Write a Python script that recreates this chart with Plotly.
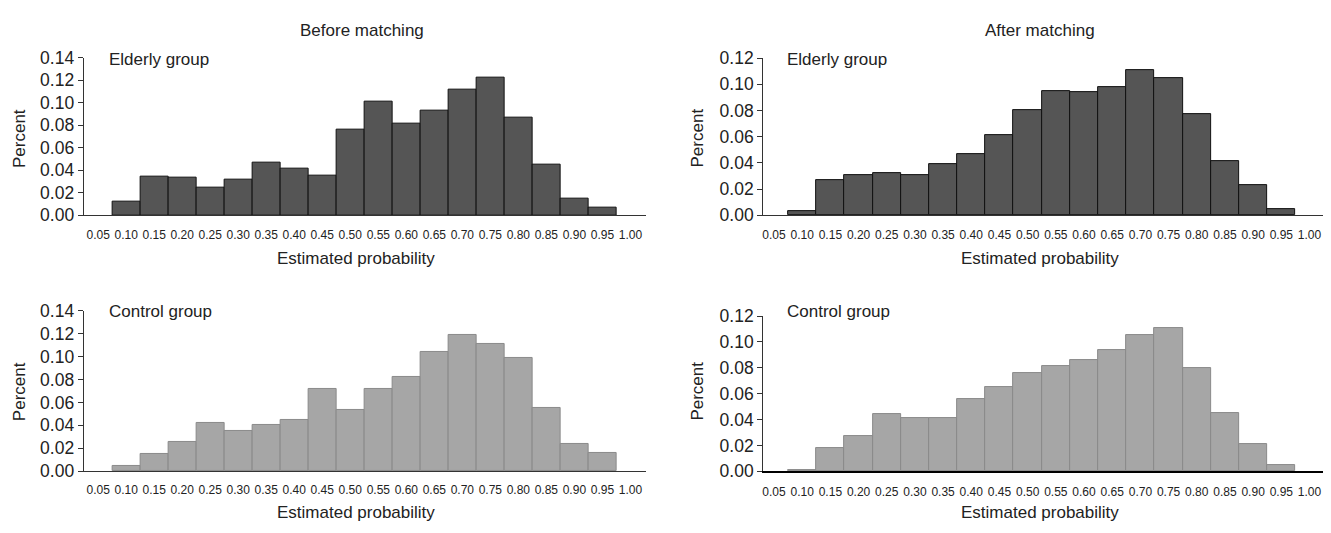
import plotly.graph_objects as go

bins = [0.10, 0.15, 0.20, 0.25, 0.30, 0.35, 0.40, 0.45, 0.50, 0.55,
        0.60, 0.65, 0.70, 0.75, 0.80, 0.85, 0.90, 0.95]
x_tick_vals = [0.05, 0.10, 0.15, 0.20, 0.25, 0.30, 0.35, 0.40, 0.45, 0.50,
               0.55, 0.60, 0.65, 0.70, 0.75, 0.80, 0.85, 0.90, 0.95, 1.00]
x_tick_text = ["%.2f" % v for v in x_tick_vals]

before_elderly = [0.012, 0.034, 0.033, 0.025, 0.032, 0.047, 0.041, 0.035, 0.076, 0.101,
                  0.081, 0.093, 0.112, 0.122, 0.087, 0.045, 0.015, 0.007]
after_elderly = [0.003, 0.027, 0.031, 0.032, 0.031, 0.039, 0.047, 0.061, 0.080, 0.095,
                 0.094, 0.098, 0.111, 0.105, 0.077, 0.041, 0.023, 0.005]
before_control = [0.004, 0.015, 0.025, 0.042, 0.035, 0.040, 0.045, 0.072, 0.053, 0.072,
                  0.082, 0.104, 0.119, 0.111, 0.099, 0.055, 0.024, 0.016]
after_control = [0.001, 0.018, 0.027, 0.044, 0.041, 0.041, 0.056, 0.065, 0.076, 0.081,
                 0.086, 0.094, 0.105, 0.111, 0.080, 0.045, 0.021, 0.005]

W, H = 1331, 533
def px(v): return v / W
def py(v): return 1 - v / H

FONT = "Liberation Sans, Arial, Helvetica, sans-serif"
TXT = "#222222"

fig = go.Figure()

panels = [
    (before_elderly, "x", "y", "#555555", "#111111", 0.14,
     (82.7, 645), (49.5, 213.3), "Elderly group", (106, 51)),
    (after_elderly, "x2", "y2", "#555555", "#111111", 0.12,
     (762.7, 1323), (50, 213.3), "Elderly group", (785, 51)),
    (before_control, "x3", "y3", "#a6a6a6", "#8a8a8a", 0.14,
     (82.7, 645), (312.7, 479), "Control group", (106, 313)),
    (after_control, "x4", "y4", "#a6a6a6", "#8a8a8a", 0.12,
     (762.7, 1323), (318, 479.3), "Control group", (785, 313)),
]

xranges = {"x": [0.024, 1.027], "x2": [0.0307, 1.024], "x3": [0.024, 1.027], "x4": [0.0307, 1.024]}

annotations = []
for i, (vals, xa, ya, fill, line, ytop, xd, yd, label, lpos) in enumerate(panels):
    fig.add_trace(go.Bar(
        x=bins, y=vals, width=0.05, xaxis=xa, yaxis=ya,
        marker=dict(color=fill, line=dict(color=line, width=1)),
        showlegend=False, hoverinfo="x+y",
    ))
    n = "" if i == 0 else str(i + 1)
    xline_col = "#000000" if i == 3 else "#333333"
    xline_w = 2 if i == 3 else 1
    fig.layout["xaxis" + n] = dict(
        domain=[px(xd[0]), px(xd[1])], anchor=ya, range=xranges[xa],
        tickmode="array", tickvals=x_tick_vals, ticktext=x_tick_text,
        tickangle=0, ticks="", ticklabelstandoff=8,
        tickfont=dict(family=FONT, size=12, color=TXT),
        showline=True, linecolor=xline_col, linewidth=xline_w,
        showgrid=False, zeroline=False, fixedrange=True,
    )
    step = 0.02
    yt = [round(k * step, 2) for k in range(int(round(ytop / step)) + 1)]
    fig.layout["yaxis" + n] = dict(
        domain=[py(yd[1]), py(yd[0])], anchor=xa, range=[0, ytop],
        tickmode="array", tickvals=yt, ticktext=["%.2f" % v for v in yt],
        ticks="outside", ticklen=5, tickcolor="#333333", tickwidth=1,
        tickfont=dict(family=FONT, size=17.5, color=TXT),
        showline=True, linecolor="#333333", linewidth=1,
        showgrid=False, zeroline=False, fixedrange=True,
    )
    annotations.append(dict(
        text=label, x=px(lpos[0]), y=py(lpos[1]), xref="paper", yref="paper",
        xanchor="left", yanchor="middle", showarrow=False,
        font=dict(family=FONT, size=17, color=TXT),
    ))

for txt, cx in [("Before matching", 361), ("After matching", 1040)]:
    annotations.append(dict(text=txt, x=px(cx), y=py(21), xref="paper", yref="paper",
                            xanchor="center", yanchor="middle", showarrow=False,
                            font=dict(family=FONT, size=17, color=TXT)))
for cx, cy in [(355, 258), (1040, 258), (355, 522), (1040, 522)]:
    annotations.append(dict(text="Estimated probability", x=px(cx), y=py(cy),
                            xref="paper", yref="paper", xanchor="center", yanchor="middle",
                            showarrow=False, font=dict(family=FONT, size=17, color=TXT)))
for cx, cy in [(18, 133), (697, 133), (18, 396), (697, 396)]:
    annotations.append(dict(text="Percent", x=px(cx), y=py(cy), textangle=-90,
                            xref="paper", yref="paper", xanchor="center", yanchor="middle",
                            showarrow=False, font=dict(family=FONT, size=17, color=TXT)))

fig.update_layout(
    width=W, height=H, margin=dict(l=0, r=0, t=0, b=0),
    paper_bgcolor="white", plot_bgcolor="white",
    bargap=0, annotations=annotations,
)

fig.write_html("out.html", config={"displayModeBar": False},
               post_script="document.body.style.margin='0';document.body.style.overflow='hidden';")
